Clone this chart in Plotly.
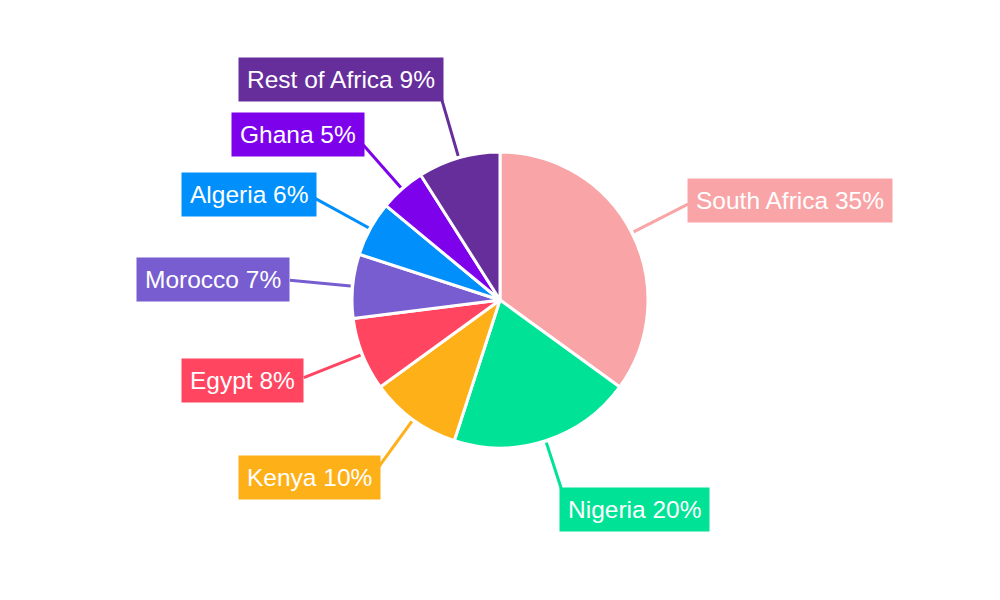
import math
import plotly.graph_objects as go

# Data
countries = ["South Africa", "Nigeria", "Kenya", "Egypt", "Morocco", "Algeria", "Ghana", "Rest of Africa"]
shares = [35, 20, 10, 8, 7, 6, 5, 9]
colors = ["#f9a5a7", "#00e396", "#feb019", "#ff4560", "#775dd0", "#008ffb", "#7d02eb", "#662e9b"]

# Layout / style constants (pixels, in page coordinates)
W, H = 1000, 600
OFF = 8  # default page body margin
CX, CY, R = 500, 300, 148
R_LINE_START, R_LINE_END = 150, 211
label_dx = [-1, -6, 5, 0, 0, 2, 5, 3]      # small horizontal label shifts (px), style only
label_dy = [0, 0, 0, 0, 0, 0, 0, -9]       # small vertical label shifts (px), style only


def px(x):
    return (x - OFF) / W


def py(y):
    return 1 - (y - OFF) / H


fig = go.Figure(go.Pie(
    labels=countries,
    values=shares,
    sort=False,
    direction="clockwise",
    rotation=0,
    textinfo="none",
    hoverinfo="label+percent",
    marker=dict(colors=colors, line=dict(color="white", width=3)),
    domain=dict(x=[px(CX - R), px(CX + R)], y=[py(CY + R), py(CY - R)]),
    showlegend=False,
))

total = sum(shares)
cum = 0
shapes, annotations = [], []
for name, val, col, dx, dy in zip(countries, shares, colors, label_dx, label_dy):
    mid = (cum + val / 2) / total * 2 * math.pi
    cum += val
    s, c = math.sin(mid), math.cos(mid)
    x0, y0 = CX + R_LINE_START * s, CY - R_LINE_START * c
    x1, y1 = CX + R_LINE_END * s, CY - R_LINE_END * c
    shapes.append(dict(type="line", xref="paper", yref="paper",
                       x0=px(x0), y0=py(y0), x1=px(x1), y1=py(y1),
                       line=dict(color=col, width=3)))
    ly = y1 - 9 * c + dy
    lx = x1 + dx
    pct = round(val / total * 100)
    annotations.append(dict(
        xref="paper", yref="paper", x=px(lx), y=py(ly),
        xanchor="left" if s > 0 else "right", yanchor="middle",
        text=f"{name} {pct}%", showarrow=False,
        font=dict(family="Liberation Sans, Arial, sans-serif", size=24.5, color="white"),
        bgcolor=col, borderpad=8,
    ))

fig.update_layout(
    width=W, height=H,
    margin=dict(l=0, r=0, t=0, b=0),
    paper_bgcolor="white", plot_bgcolor="white",
    shapes=shapes, annotations=annotations,
)

fig.write_html("out.html")
